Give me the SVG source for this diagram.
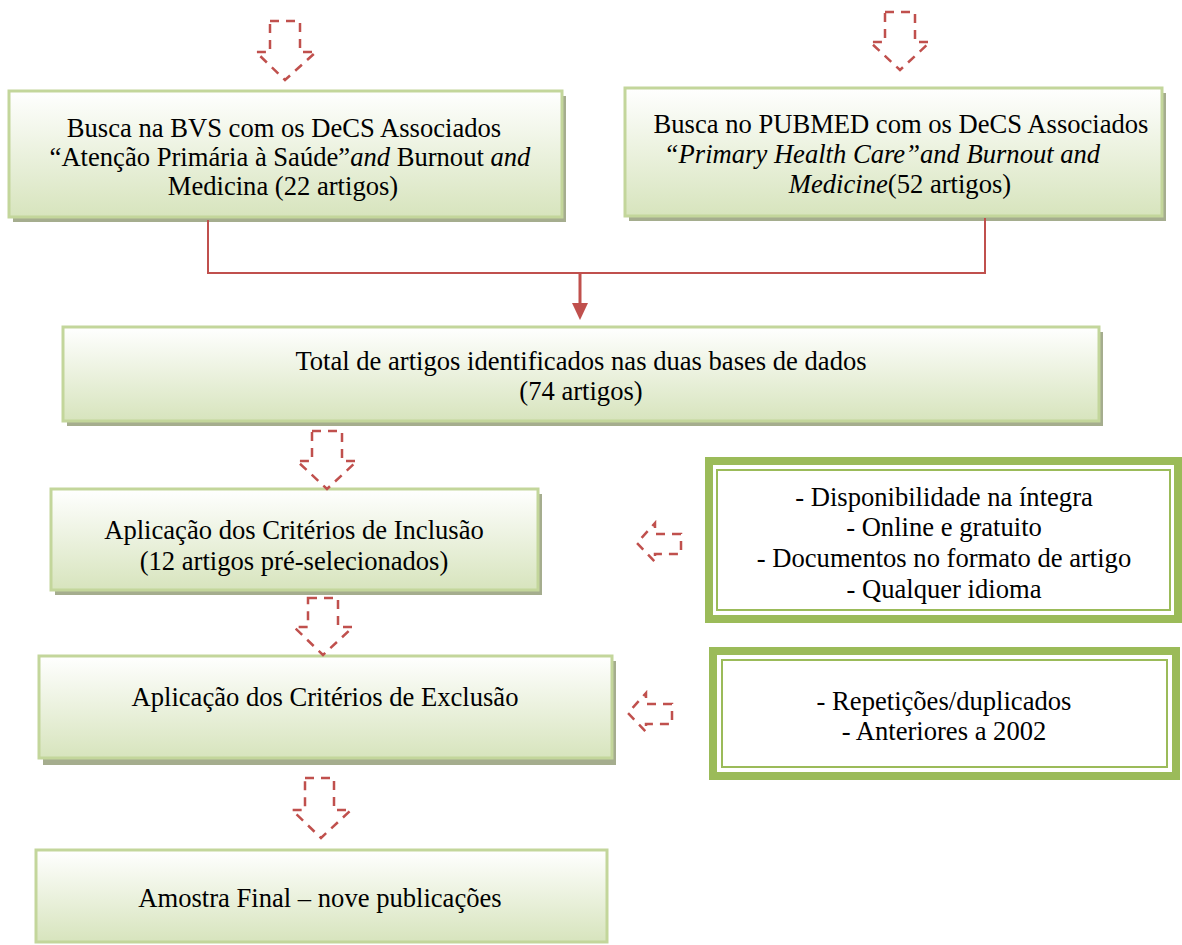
<svg xmlns="http://www.w3.org/2000/svg" width="1182" height="945" viewBox="0 0 1182 945">
<defs>
<linearGradient id="g" x1="0" y1="0" x2="0" y2="1">
<stop offset="0" stop-color="#ffffff"/>
<stop offset="1" stop-color="#d7e4bd"/>
</linearGradient>
</defs>
<style>
.box{fill:url(#g);stroke:#c3d69b;stroke-width:3}
.sh{fill:#a5ad8e}
.t{font-family:"Liberation Serif","Times New Roman",serif;font-size:26.6px;fill:#000;text-anchor:middle}
.da{fill:none;stroke:#c0504d;stroke-width:2.5;stroke-dasharray:9 7}
.go{fill:#fff;stroke:#9bbb59;stroke-width:8}
.gi{fill:none;stroke:#9bbb59;stroke-width:2}
.c{fill:none;stroke:#c0504d;stroke-width:2}
</style>
<rect width="1182" height="945" fill="#fff"/>

<g id="n1">
<rect class="sh" x="13" y="96" width="553" height="126"/>
<rect class="box" x="9" y="91" width="553" height="126"/>
<text class="t" x="284" y="137">Busca na BVS com os DeCS Associados</text>
<text class="t" x="290" y="166">“Atenção Primária à Saúde”<tspan font-style="italic">and</tspan> Burnout <tspan font-style="italic">and</tspan></text>
<text class="t" x="283" y="195">Medicina (22 artigos)</text>
</g>

<g id="n2">
<rect class="sh" x="629" y="93" width="537" height="128"/>
<rect class="box" x="625" y="88" width="537" height="128"/>
<text class="t" x="901" y="133">Busca no PUBMED com os DeCS Associados</text>
<text class="t" x="882" y="163" font-style="italic">“Primary Health Care”and Burnout and</text>
<text class="t" x="900" y="193"><tspan font-style="italic">Medicine</tspan>(52 artigos)</text>
</g>

<g id="n3">
<rect class="sh" x="67" y="332" width="1036" height="94"/>
<rect class="box" x="63" y="327" width="1036" height="94"/>
<text class="t" x="581" y="370">Total de artigos identificados nas duas bases de dados</text>
<text class="t" x="581" y="400">(74 artigos)</text>
</g>

<g id="n4">
<rect class="sh" x="55" y="494" width="487" height="101"/>
<rect class="box" x="51" y="489" width="487" height="101"/>
<text class="t" x="294" y="539">Aplicação dos Critérios de Inclusão</text>
<text class="t" x="294" y="570">(12 artigos pré-selecionados)</text>
</g>

<g id="n5">
<rect class="sh" x="43" y="661" width="573" height="104"/>
<rect class="box" x="39" y="656" width="573" height="102"/>
<text class="t" x="325" y="706">Aplicação dos Critérios de Exclusão</text>
</g>

<g id="n6">
<rect class="box" x="36" y="850" width="571" height="92"/>
<text class="t" x="320" y="907">Amostra Final – nove publicações</text>
</g>

<g id="g1">
<rect class="go" x="709" y="461" width="469" height="158"/>
<rect class="gi" x="717" y="470" width="453" height="140"/>
<text class="t" x="944" y="506">- Disponibilidade na íntegra</text>
<text class="t" x="944" y="536">- Online e gratuito</text>
<text class="t" x="944" y="567">- Documentos no formato de artigo</text>
<text class="t" x="944" y="598">- Qualquer idioma</text>
</g>

<g id="g2">
<rect class="go" x="713" y="651" width="463" height="125"/>
<rect class="gi" x="722" y="660" width="445" height="107"/>
<text class="t" x="944" y="710">- Repetições/duplicados</text>
<text class="t" x="944" y="740">- Anteriores a 2002</text>
</g>

<g id="connectors">
<polyline class="c" points="208,220 208,273 985,273 985,218"/>
<line x1="580" y1="273" x2="580" y2="305" stroke="#c0504d" stroke-width="3"/>
<path d="M572,303 L588,303 L580,320 Z" fill="#c0504d"/>
<polygon class="da" points="270,21 300,21 300,52 316,52 285,80 256,52 270,52"/>
<polygon class="da" points="885,12 915,12 915,42 930,42 900,70 870,42 885,42"/>
<polygon class="da" points="312,431 342,431 342,461 357,461 327,489 297,461 312,461"/>
<polygon class="da" points="308,598 338,598 338,627 353,627 323,655 294,627 308,627"/>
<polygon class="da" points="305,778 334,778 334,810 351,810 321,838 292,810 305,810"/>
<polygon class="da" points="681,534 655,534 655,523 637,543 655,562 655,554 681,554"/>
<polygon class="da" points="672,704 646,704 646,693 628,713 646,732 646,724 672,724"/>
</g>
</svg>
